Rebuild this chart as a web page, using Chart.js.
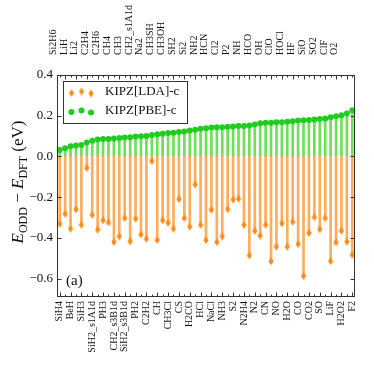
<!DOCTYPE html>
<html>
<head>
<meta charset="utf-8">
<script src="https://cdn.jsdelivr.net/npm/chart.js@4.4.1/dist/chart.umd.min.js"></script>
<style>
  html, body { margin: 0; padding: 0; background: #fff; }
  #wrap { width: 374px; height: 374px; }
</style>
</head>
<body>
<div id="wrap"><canvas id="stemChart"></canvas></div>
<script>
// molecules, sorted by the KIPZ[PBE]-c error; even ones labelled below, odd ones above
const molecules = [
    'SiH4', 'Si2H6', 'BeH', 'LiH', 'SiH3', 'Li2', 'SiH2_s1A1d', 'C2H4', 'PH3', 'C2H6',
    'CH2_s3B1d', 'CH4', 'SiH2_s3B1d', 'CH3', 'PH2', 'CH2_s1A1d', 'C2H2', 'Na2', 'CH', 'CH3SH',
    'CH3Cl', 'CH3OH', 'CS', 'SH2', 'H2CO', 'Si2', 'HCl', 'NH2', 'NaCl', 'HCN',
    'NH3', 'Cl2', 'S2', 'P2', 'N2H4', 'NH', 'N2', 'HCO', 'CN', 'OH',
    'NO', 'ClO', 'H2O', 'HOCl', 'CO', 'HF', 'CO2', 'SiO', 'SO', 'SO2',
    'LiF', 'ClF', 'H2O2', 'O2', 'F2'
];

const kipzLda = [
    -0.331, -0.282, -0.355, -0.260, -0.336, -0.057, -0.287, -0.360, -0.314, -0.324,
    -0.420, -0.393, -0.303, -0.417, -0.306, -0.383, -0.404, -0.023, -0.411, -0.314,
    -0.326, -0.355, -0.210, -0.303, -0.345, -0.138, -0.336, -0.411, -0.262, -0.420,
    -0.393, -0.259, -0.212, -0.208, -0.336, -0.486, -0.365, -0.389, -0.336, -0.515,
    -0.443, -0.329, -0.443, -0.321, -0.430, -0.587, -0.376, -0.298, -0.358, -0.303,
    -0.515, -0.422, -0.365, -0.419, -0.483
];

const kipzPbe = [
    0.032, 0.040, 0.050, 0.054, 0.056, 0.069, 0.077, 0.083, 0.086, 0.086,
    0.088, 0.091, 0.093, 0.094, 0.098, 0.099, 0.101, 0.106, 0.109, 0.112,
    0.115, 0.117, 0.120, 0.123, 0.128, 0.131, 0.136, 0.139, 0.142, 0.144,
    0.144, 0.146, 0.147, 0.149, 0.150, 0.152, 0.157, 0.163, 0.165, 0.166,
    0.168, 0.168, 0.170, 0.173, 0.176, 0.178, 0.179, 0.182, 0.184, 0.187,
    0.192, 0.197, 0.202, 0.211, 0.227
];

const yTickValues = [0.4, 0.2, 0.0, -0.2, -0.4, -0.6];
const seriesNames = ['KIPZ[LDA]-c', 'KIPZ[PBE]-c'];

const SERIF = "'Liberation Serif', 'DejaVu Serif', serif";
const ORANGE = '#ff8c1a';
const ORANGE_STEM = '#ffad5c';
const GREEN = '#1fcc1f';
const GREEN_STEM = '#6ddf5a';

function thinDiamond(color) {
    const c = document.createElement('canvas');
    c.width = 6;
    c.height = 8;
    const g = c.getContext('2d');
    g.fillStyle = color;
    g.beginPath();
    g.moveTo(3, 0);
    g.lineTo(5.6, 4);
    g.lineTo(3, 8);
    g.lineTo(0.4, 4);
    g.closePath();
    g.fill();
    return c;
}
const diamondImg = thinDiamond(ORANGE);

function fmtTick(v) {
    if (Math.abs(v) < 1e-9) return '0.0';
    return (v < 0 ? '\u2212' : '') + Math.abs(v).toFixed(1);
}

// frame with inward ticks, like the original
const frameTicks = {
    id: 'frameTicks',
    afterDatasetsDraw(chart) {
        const { ctx, chartArea: a, scales } = chart;
        const L = Math.round(a.left) + 0.5, R = Math.round(a.right) - 0.5;
        const T = Math.round(a.top) + 0.5, B = Math.round(a.bottom) - 0.5;
        ctx.save();
        ctx.strokeStyle = '#333';
        ctx.lineWidth = 1;
        ctx.strokeRect(L, T, R - L, B - T);
        ctx.beginPath();
        molecules.forEach((m, i) => {
            const px = Math.round(scales.x.getPixelForValue(i)) + 0.5;
            ctx.moveTo(px, B);
            ctx.lineTo(px, B - (i % 2 === 0 ? 4 : 2));
            ctx.moveTo(px, T);
            ctx.lineTo(px, T + (i % 2 === 1 ? 4 : 2));
        });
        yTickValues.forEach(v => {
            const py = Math.round(scales.y.getPixelForValue(v)) + 0.5;
            ctx.moveTo(L, py);
            ctx.lineTo(L + 4, py);
            ctx.moveTo(R, py);
            ctx.lineTo(R - 4, py);
        });
        ctx.stroke();
        ctx.restore();
    }
};

const annotations = {
    id: 'annotations',
    afterDraw(chart) {
        const { ctx } = chart;
        ctx.save();
        ctx.fillStyle = '#111';

        // legend
        ctx.fillStyle = 'rgba(255,255,255,0.9)';
        ctx.fillRect(63, 81, 124, 42);
        ctx.strokeStyle = '#333';
        ctx.lineWidth = 1;
        ctx.strokeRect(63.5, 81.5, 124, 42);
        const mx = [71.5, 81.5, 91];
        const dy = [1, -0.5, 1.5];
        mx.forEach((x, k) => {
            ctx.drawImage(diamondImg, x - 3, 92 + dy[k] - 4);
            ctx.fillStyle = GREEN;
            ctx.beginPath();
            ctx.arc(x, 111 + dy[k], 3, 0, Math.PI * 2);
            ctx.fill();
        });
        ctx.fillStyle = '#111';
        ctx.font = '13px ' + SERIF;
        ctx.textBaseline = 'middle';
        ctx.textAlign = 'left';
        ctx.fillText(seriesNames[0], 105, 92);
        ctx.fillText(seriesNames[1], 105, 111);

        // panel tag
        ctx.font = '15px ' + SERIF;
        ctx.fillText('(a)', 66, 281);

        // y axis title with subscripts
        const parts = [
            { t: 'E', f: 'italic 17px ' + SERIF, d: 0 },
            { t: 'ODD', f: '12px ' + SERIF, d: 3.5 },
            { t: ' \u2212 ', f: '17px ' + SERIF, d: 0 },
            { t: 'E', f: 'italic 17px ' + SERIF, d: 0 },
            { t: 'DFT', f: '12px ' + SERIF, d: 3.5 },
            { t: ' (eV)', f: '17px ' + SERIF, d: 0 }
        ];
        let total = 0;
        parts.forEach(p => { ctx.font = p.f; p.w = ctx.measureText(p.t).width; total += p.w; });
        ctx.translate(23, 182);
        ctx.rotate(-Math.PI / 2);
        ctx.textBaseline = 'alphabetic';
        let x = -total / 2;
        parts.forEach(p => {
            ctx.font = p.f;
            ctx.fillText(p.t, x, p.d);
            x += p.w;
        });
        ctx.restore();
    }
};

new Chart(document.getElementById('stemChart'), {
    type: 'bar',
    data: {
        labels: molecules,
        datasets: [
            {
                label: seriesNames[0] + ' stem',
                data: kipzLda,
                backgroundColor: ORANGE_STEM,
                barThickness: 2,
                grouped: false,
                order: 3
            },
            {
                label: seriesNames[1] + ' stem',
                data: kipzPbe,
                backgroundColor: GREEN_STEM,
                barThickness: 2,
                grouped: false,
                order: 3
            },
            {
                type: 'line',
                label: seriesNames[0],
                data: kipzLda,
                showLine: false,
                pointStyle: diamondImg,
                pointRadius: 4,
                order: 1
            },
            {
                type: 'line',
                label: seriesNames[1],
                data: kipzPbe,
                showLine: false,
                pointStyle: 'circle',
                pointRadius: 3,
                pointBackgroundColor: GREEN,
                pointBorderWidth: 0,
                order: 1
            }
        ]
    },
    options: {
        responsive: true,
        maintainAspectRatio: false,
        animation: false,
        layout: { padding: { left: 0, right: 19, top: 0, bottom: 0 } },
        plugins: {
            legend: { display: false },
            tooltip: { enabled: false }
        },
        scales: {
            x: {
                type: 'category',
                position: 'bottom',
                offset: true,
                grid: { display: false, drawTicks: false },
                border: { display: false },
                ticks: {
                    autoSkip: false,
                    maxRotation: 90,
                    minRotation: 90,
                    padding: 4,
                    color: '#111',
                    font: { family: SERIF, size: 10 },
                    callback: (v, i) => (i % 2 === 0 ? molecules[i] : '')
                },
                afterFit: s => { s.height = 77; }
            },
            xTop: {
                type: 'category',
                position: 'top',
                offset: true,
                grid: { display: false, drawTicks: false },
                border: { display: false },
                ticks: {
                    autoSkip: false,
                    maxRotation: 90,
                    minRotation: 90,
                    padding: 20,
                    color: '#111',
                    font: { family: SERIF, size: 10 },
                    callback: (v, i) => (i % 2 === 1 ? molecules[i] : '')
                },
                afterFit: s => { s.height = 75; }
            },
            y: {
                min: -0.69,
                max: 0.4,
                grid: { display: false, drawTicks: false },
                border: { display: false },
                ticks: {
                    includeBounds: false,
                    padding: 4,
                    color: '#111',
                    font: { family: SERIF, size: 13 },
                    callback: v => fmtTick(v)
                },
                afterBuildTicks: s => { s.ticks = yTickValues.map(v => ({ value: v })); },
                afterFit: s => { s.width = 57; }
            }
        }
    },
    plugins: [frameTicks, annotations]
});
</script>
</body>
</html>
